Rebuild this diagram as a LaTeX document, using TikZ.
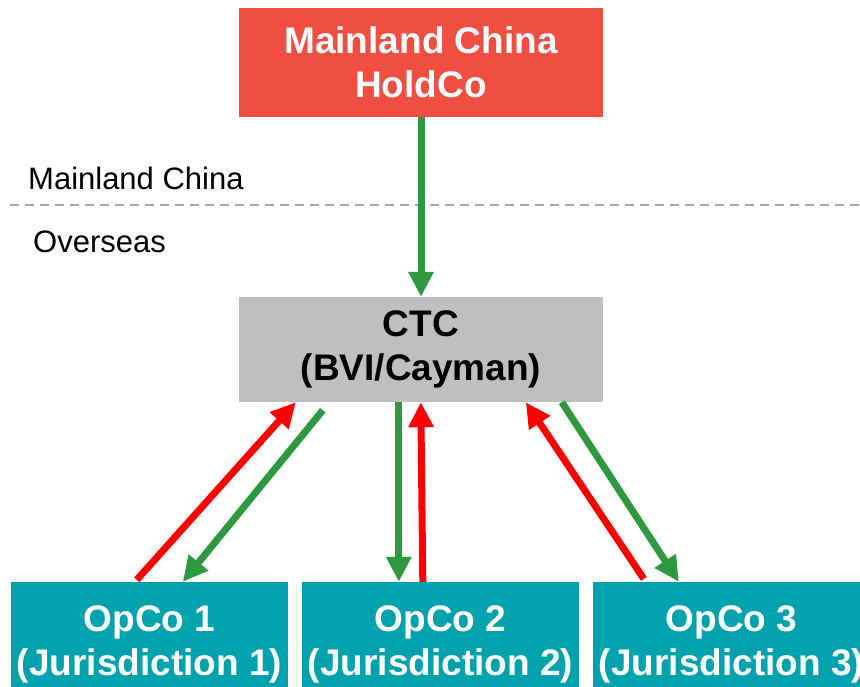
\documentclass[tikz,border=0pt]{standalone}
\usepackage{fontspec}
\setmainfont{Liberation Sans}
\usetikzlibrary{arrows.meta,positioning,calc}
\definecolor{coral}{RGB}{240,78,65}
\definecolor{stone}{RGB}{191,191,191}
\definecolor{teal}{RGB}{0,163,173}
\definecolor{fern}{RGB}{46,152,64}
\definecolor{scarlet}{RGB}{255,0,0}
\definecolor{divider}{RGB}{166,166,166}
\tikzset{
  entity/.style={fill=#1,text=white,inner sep=0pt,align=center,
    minimum width=364pt,minimum height=109pt,
    font=\fontsize{37}{44}\selectfont\bfseries},
  entity/.default=coral,
  opco/.style={entity=teal,minimum width=277pt,minimum height=125pt},
  flow/.style={-{Triangle[length=25pt,width=24pt]},line width=7pt,draw=#1},
  flow/.default=fern,
  region/.style={anchor=west,inner sep=0pt,font=\fontsize{31}{37}\selectfont},
}
\begin{document}
\begin{tikzpicture}[x=1pt,y=-1pt]
  \useasboundingbox (0,0) rectangle (860,687);
  \clip (0,0) rectangle (860,687);
  % entities
  \node[entity] (hold) at (421,62.5) {Mainland China\\HoldCo};
  \node[entity=stone,text=black,minimum height=105pt] (ctc) at (421,349.5) {CTC\\(BVI/Cayman)};
  \node[opco] (op1) at (149.5,644.5) {OpCo 1\\(Jurisdiction 1)};
  \node[opco] (op2) at (440.5,644.5) {OpCo 2\\(Jurisdiction 2)};
  \node[opco] (op3) at (731.5,644.5) {OpCo 3\\(Jurisdiction 3)};
  % border between regions
  \coordinate (divL) at (10,205);
  \coordinate (divR) at (860,205);
  \draw[divider,line width=2.5pt,dash pattern=on 9pt off 6pt] (divL) -- (divR);
  \node[region] (mc) at (28,178) {Mainland China};
  \node[region] (os) at (33,242) {Overseas};
  % flows
  \draw[flow] (hold.south) -- (ctc.north);
  \draw[flow=scarlet] ([xshift=126pt,yshift=2pt]op1.north west) -- ([xshift=57pt]ctc.south west);
  \draw[flow] ([xshift=84pt,yshift=-8pt]ctc.south west) -- ([xshift=172pt]op1.north west);
  \draw[flow] ([xshift=160pt]ctc.south west) -- ([xshift=97pt]op2.north west);
  \draw[flow=scarlet] ([xshift=121pt]op2.north west) -- ([xshift=182pt]ctc.south west);
  \draw[flow=scarlet] ([xshift=51pt,yshift=3pt]op3.north west) -- ([xshift=287pt]ctc.south west);
  \draw[flow] ([xshift=323pt]ctc.south west) -- ([xshift=86pt]op3.north west);
\end{tikzpicture}
\end{document}
